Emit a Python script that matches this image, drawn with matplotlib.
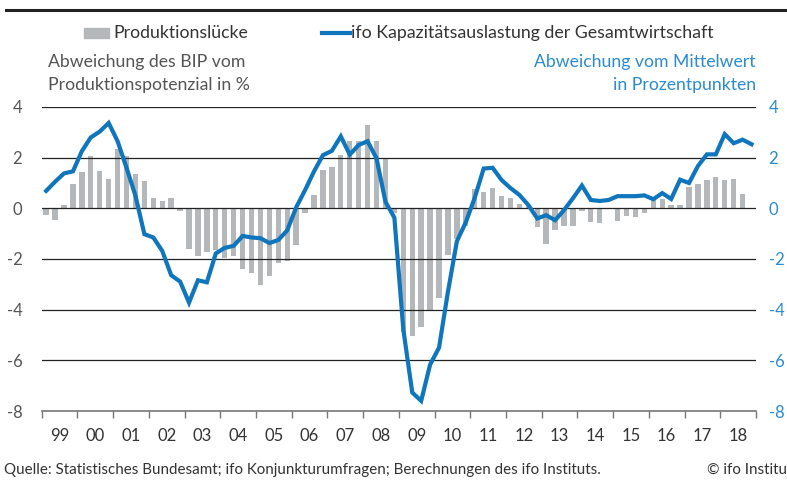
import numpy as np
import matplotlib.pyplot as plt
from matplotlib.patches import Rectangle
from matplotlib.lines import Line2D

plt.rcParams['font.family'] = ['Lato', 'DejaVu Sans']

# Produktionslücke (Quartale 1999Q1 .. 2018Q4), in %
produktionsluecke = [
    -0.28, -0.48, 0.12, 0.95,
    1.44, 2.06, 1.48, 1.15,
    2.34, 2.06, 1.36, 1.08,
    0.40, 0.29, 0.40, -0.10,
    -1.61, -1.89, -1.74, -1.65,
    -1.97, -1.88, -2.40, -2.57,
    -3.03, -2.68, -2.16, -2.09,
    -1.45, -0.17, 0.53, 1.53,
    1.65, 2.10, 2.65, 2.65,
    3.27, 2.65, 2.00, -0.20,
    -4.90, -5.02, -4.68, -4.02,
    -3.55, -1.83, -1.22, -0.69,
    0.75, 0.65, 0.80, 0.48,
    0.40, 0.16, 0.08, -0.74,
    -1.41, -0.85, -0.70, -0.70,
    -0.10, -0.54, -0.58, 0.0,
    -0.49, -0.32, -0.34, -0.17,
    0.35, 0.37, 0.12, 0.12,
    0.85, 0.96, 1.12, 1.24,
    1.12, 1.16, 0.56, np.nan,
]

# ifo Kapazitätsauslastung, Abweichung vom Mittelwert
kapazitaet = [
    0.69, 1.05, 1.38, 1.46,
    2.26, 2.80, 3.03, 3.37,
    2.65, 1.60, 0.50, -1.02,
    -1.15, -1.68, -2.64, -2.89,
    -3.72, -2.84, -2.92, -1.78,
    -1.56, -1.48, -1.09, -1.15,
    -1.18, -1.37, -1.25, -0.87,
    0.04, 0.72, 1.46, 2.10,
    2.27, 2.84, 2.12, 2.50,
    2.65, 1.97, 0.26, -0.37,
    -4.78, -7.27, -7.60, -6.17,
    -5.50, -3.29, -1.30, -0.55,
    0.42, 1.57, 1.60, 1.12,
    0.80, 0.53, 0.13, -0.40,
    -0.27, -0.47, -0.07, 0.40,
    0.90, 0.33, 0.29, 0.33,
    0.48, 0.48, 0.48, 0.51,
    0.36, 0.60, 0.37, 1.13,
    1.00, 1.67, 2.13, 2.13,
    2.93, 2.57, 2.71, 2.53,
]

jahre = list(range(1999, 2019))
jahr_labels = ['%02d' % (j % 100) for j in jahre]
y_ticks = [4, 2, 0, -2, -4, -6, -8]

grau = '#b5b8ba'
blau = '#0f75bc'
blau_text = '#2a8bd2'
text_grau = '#555555'

W, H = 787, 483
fig = plt.figure(figsize=(W / 100, H / 100), dpi=100)

def fx(px):
    return px / W

def fy(py):
    return 1 - py / H

ax = fig.add_axes([fx(41.7), fy(411), fx(756) - fx(41.7), fy(107) - fy(411)])

x = 1999 + (np.arange(len(kapazitaet)) + 0.5) / 4
ax.bar(x, produktionsluecke, width=0.15, color=grau, zorder=1)
ax.plot(x, kapazitaet, color=blau, lw=3, solid_joinstyle='miter', zorder=3)

ax.set_xlim(1999, 2019)
ax.set_ylim(-8, 4)
for v in y_ticks[:-1]:
    ax.axhline(v, color='#222222', lw=0.9, zorder=2)

for s in ['top', 'right', 'left']:
    ax.spines[s].set_visible(False)
ax.spines['bottom'].set_color('#777777')
ax.spines['bottom'].set_linewidth(1.2)

ax.set_xticks(jahre + [2019])
ax.set_xticklabels([])
ax.set_xticks([j + 0.5 for j in jahre], minor=True)
ax.set_xticklabels(jahr_labels, minor=True)
ax.tick_params(axis='x', which='major', length=5, width=1, color='#777777', direction='out')
ax.tick_params(axis='x', which='minor', length=0, pad=12, labelsize=12, labelcolor='#333333')

ax.set_yticks(y_ticks)
ax.set_yticklabels([str(v) for v in y_ticks])
ax.tick_params(axis='y', length=0, pad=14, labelsize=12, labelcolor=text_grau)

ax2 = ax.twinx()
ax2.set_ylim(-8, 4)
ax2.set_yticks(y_ticks)
ax2.set_yticklabels([str(v) for v in y_ticks])
ax2.tick_params(axis='y', length=0, pad=9, labelsize=12, labelcolor=blau_text)
for s in ax2.spines.values():
    s.set_visible(False)

# obere Linie
fig.add_artist(Line2D([fx(6), 1], [fy(10), fy(10)], color='#222222', lw=2.2))

# Legende
fig.add_artist(Rectangle((fx(84), fy(38)), fx(25), fy(28) - fy(38), color=grau))
fig.text(fx(113), fy(33), 'Produktionslücke', fontsize=12.7, color='#333333', va='center', ha='left')
fig.add_artist(Line2D([fx(322), fx(350)], [fy(33), fy(33)], color=blau, lw=3))
fig.text(fx(351), fy(33), 'ifo Kapazitätsauslastung der Gesamtwirtschaft', fontsize=12.8,
         color='#333333', va='center', ha='left')

fig.text(fx(48), fy(62), 'Abweichung des BIP vom', fontsize=12.7, color=text_grau, va='center')
fig.text(fx(48), fy(85), 'Produktionspotenzial in %', fontsize=12.7, color=text_grau, va='center')
fig.text(fx(756), fy(62), 'Abweichung vom Mittelwert', fontsize=12.7, color=blau_text,
         va='center', ha='right')
fig.text(fx(756), fy(85), 'in Prozentpunkten', fontsize=12.7, color=blau_text,
         va='center', ha='right')

fig.text(fx(4), fy(470), 'Quelle: Statistisches Bundesamt; ifo Konjunkturumfragen; '
         'Berechnungen des ifo Instituts.', fontsize=10.9, color='#333333', va='center')
fig.text(fx(707), fy(470), '© ifo Institut', fontsize=10.9, color='#333333', va='center')

fig.savefig('out.png', dpi=100)
